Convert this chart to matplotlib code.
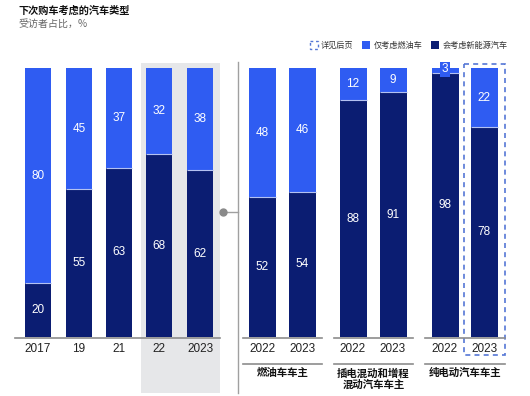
import matplotlib
matplotlib.use("Agg")
import matplotlib.pyplot as plt
from matplotlib.patches import Rectangle

plt.rcParams['font.family'] = ['Liberation Sans', 'Noto Sans CJK SC', 'DejaVu Sans']

# ---- data ----
tick_labels = ['2017', '19', '21', '22', '2023',
               '2022', '2023', '2022', '2023', '2022', '2023']
nev_share = [20, 55, 63, 68, 62, 52, 54, 88, 91, 98, 78]     # 会考虑新能源汽车
fuel_share = [80, 45, 37, 32, 38, 48, 46, 12, 9, 3, 22]      # 仅考虑燃油车
group_names = ['燃油车车主', '插电混动和增程\n混动汽车车主', '纯电动汽车车主']
title = '下次购车考虑的汽车类型'
subtitle = '受访者占比，%'
legend_labels = ['详见后页', '仅考虑燃油车', '会考虑新能源汽车']

# ---- layout (pixel based) ----
W, H = 530, 396
pos = [38, 79, 119, 159, 200, 262, 302, 353, 393, 445, 484]
widths = [26] * 5 + [27] * 6
base_px, top_px = 337, 68
BLUE = '#2F5CF2'
NAVY = '#0B1D72'
GRAY_LINE = '#8c8c8c'

fig = plt.figure(figsize=(W / 100, H / 100), dpi=100)
bg = fig.add_axes([0, 0, 1, 1], zorder=0)
bg.set_xlim(0, W)
bg.set_ylim(H, 0)
bg.axis('off')

ax = fig.add_axes([0, (H - base_px) / H, 1, (base_px - top_px) / H], zorder=1)
ax.patch.set_alpha(0)
ax.set_xlim(0, W)
ax.set_ylim(0, 100)
for s in ax.spines.values():
    s.set_visible(False)
ax.set_yticks([])

# shaded region + separator
bg.add_patch(Rectangle((141, 63), 79, 330, facecolor='#e6e7e9', edgecolor='none'))
bg.plot([238, 238], [62, 393], color='#a0a0a0', lw=1.0)
bg.plot([223, 238], [212, 212], color='#a0a0a0', lw=1.0)
bg.plot([223], [212], 'o', color='#8a8a8a', ms=5)

# bars
ax.bar(pos, nev_share, width=widths, color=NAVY, edgecolor='none')
ax.bar(pos, fuel_share, width=widths, bottom=nev_share, color=BLUE, edgecolor='none')
for x, w, n in zip(pos, widths, nev_share):
    ax.plot([x - w / 2, x + w / 2], [n, n], color='#b4c2f2', lw=0.8, solid_capstyle='butt')

for x, n, f in zip(pos, nev_share, fuel_share):
    ax.text(x, n / 2, str(n), ha='center', va='center', color='white', fontsize=8.5)
    if f >= 5:
        ax.text(x, n + f / 2, str(f), ha='center', va='center', color='white', fontsize=8.5)
    else:
        ax.text(x, n + f / 2, str(f), ha='center', va='center', color='white', fontsize=8.5,
                bbox=dict(boxstyle='square,pad=0.15', fc=BLUE, ec='none'))

ax.set_xticks(pos, tick_labels)
ax.tick_params(axis='x', length=0, pad=4, labelsize=8.5, labelcolor='#222222')

# baselines
for x0, x1 in [(15, 220), (243, 322), (334, 413), (425, 505)]:
    bg.plot([x0, x1], [base_px + 0.5, base_px + 0.5], color=GRAY_LINE, lw=1.2)
# group underlines + names
for (x0, x1), name in zip([(243, 322), (334, 413), (425, 505)], group_names):
    bg.plot([x0, x1], [364, 364], color=GRAY_LINE, lw=1.2)
    bg.text((x0 + x1) / 2, 368, name, ha='center', va='top', fontsize=7.5,
            fontweight='bold', family=['Noto Sans CJK SC'], linespacing=1.2, color='#111111')

# dashed box
bg.add_patch(Rectangle((464, 64), 41, 291, facecolor='none', edgecolor='#5577d6',
                       lw=1.2, linestyle=(0, (3, 2.5))))

# title
bg.text(18, 11, title, ha='left', va='center', fontsize=7.3, fontweight='bold',
        family=['Noto Sans CJK SC'], color='#111111')
bg.text(18, 24, subtitle, ha='left', va='center', fontsize=7.2,
        family=['Noto Sans CJK SC'], color='#666666')

# legend
bg.add_patch(Rectangle((310, 41), 8, 8, facecolor='none', edgecolor='#5577d6', lw=1.0,
                       linestyle=(0, (2, 2))))
bg.text(321, 45, legend_labels[0], ha='left', va='center', fontsize=5.9,
        family=['Noto Sans CJK SC'], color='#333333')
bg.add_patch(Rectangle((362, 41), 8, 8, facecolor=BLUE, edgecolor='none'))
bg.text(374, 45, legend_labels[1], ha='left', va='center', fontsize=5.9,
        family=['Noto Sans CJK SC'], color='#333333')
bg.add_patch(Rectangle((431, 41), 8, 8, facecolor=NAVY, edgecolor='none'))
bg.text(443, 45, legend_labels[2], ha='left', va='center', fontsize=5.9,
        family=['Noto Sans CJK SC'], color='#333333')

fig.savefig('out.png', dpi=100)
